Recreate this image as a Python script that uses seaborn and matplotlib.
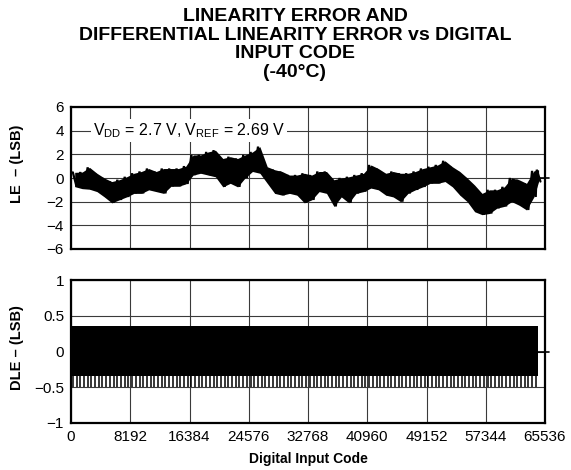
import numpy as np
import pandas as pd
import matplotlib
matplotlib.use("Agg")
import matplotlib.pyplot as plt
import seaborn as sns

# ---------------- data ----------------
x_ticks = [0, 8192, 16384, 24576, 32768, 40960, 49152, 57344, 65536]
le_yticks = [6, 4, 2, 0, -2, -4, -6]
dle_yticks = [1, 0.5, 0, -0.5, -1]
dle_yticklabels = ["1", "0.5", "0", "\u22120.5", "\u22121"]

# LE: highest / lowest value read in each 1024-code interval (interval centres)
le_code = list(range(512, 64512, 1024)) + [64650]
le_upper = [0.48, 0.5, 0.9, 0.4, 0.0, -0.3, -0.15, 0.1, 0.4, 0.55, 0.8, 0.55, 0.8, 0.8, 0.8, 1.0,
            1.95, 1.95, 2.2, 2.35, 1.65, 1.8, 1.65, 1.95, 2.2, 2.65, 0.95, 0.7, 0.55, 0.25, 0.25, 0.4,
            0.25, 0.55, 0.55, -0.15, 0.0, 0.1, 0.25, 0.4, 1.1, 0.8, 0.4, 0.55, 0.4, 0.4, 0.55, 0.8,
            0.95, 1.1, 1.45, 0.95, 0.55, 0.0, -0.6, -1.3, -1.0, -1.0, -0.75, 0.0, -0.15, -0.45, 0.6, 0.7]
le_lower = [-0.73, -0.9, -0.95, -1.15, -1.6, -2.1, -1.85, -1.6, -1.3, -1.3, -1.0, -1.15, -1.3, -0.7, -0.7, -0.5,
            0.25, 0.4, 0.25, 0.1, -0.75, -0.45, -0.75, 0.0, 0.55, 0.4, -0.45, -1.3, -1.45, -1.3, -1.45, -2.1,
            -1.85, -1.15, -1.3, -2.4, -1.6, -2.1, -1.3, -1.15, -0.85, -1.0, -1.45, -1.6, -2.0, -1.3, -1.0, -0.75,
            -0.45, -0.45, -0.3, -0.75, -1.45, -2.0, -2.85, -3.1, -3.0, -2.55, -2.4, -2.0, -2.3, -2.7, -1.6, -0.3]

# DLE: solid core band and downward comb of spikes
dle_code = [0, 64600]
dle_core_hi = [0.35, 0.35]
dle_core_lo = [-0.34, -0.34]
dle_spike_code = list(range(256, 64600, 512))
dle_spike_low = -0.49
stub_code = [64600, 66100]
stub_val = [0, 0]

# ---------------- styling ----------------
sns.set_theme(style="white")
plt.rcParams["font.family"] = ["Liberation Sans", "DejaVu Sans"]
plt.rcParams["mathtext.fontset"] = "custom"
plt.rcParams["mathtext.rm"] = "Liberation Sans"
plt.rcParams["mathtext.it"] = "Liberation Sans:italic"
plt.rcParams["mathtext.bf"] = "Liberation Sans:bold"
for k in ("text.color", "axes.labelcolor", "xtick.color", "ytick.color"):
    plt.rcParams[k] = "black"

fig = plt.figure(figsize=(5.71, 4.70), dpi=100)
W, H = 571, 470
ax1 = fig.add_axes([71 / W, 1 - 249 / H, 474 / W, 142 / H])
ax2 = fig.add_axes([71 / W, 1 - 423 / H, 474 / W, 143 / H])

grid_kw = dict(color="#3a3a3a", linewidth=0.8)

for ax in (ax1, ax2):
    ax.set_xlim(0, 65536)
    ax.set_xticks(x_ticks)
    ax.grid(True, **grid_kw)
    ax.set_axisbelow(True)
    for s in ax.spines.values():
        s.set_color("black")
        s.set_linewidth(1.6)
    ax.tick_params(axis="both", length=0, labelsize=11, colors="black", pad=5)

# ---- LE panel: band between per-interval min and max, edged by a zig-zag trace ----
ax1.fill_between(le_code, le_lower, le_upper, color="black", linewidth=0)
zz_x, zz_y = [], []
for c, u, l in zip(le_code, le_upper, le_lower):
    zz_x += [c - 256, c + 256]
    zz_y += [u, l]
le_df = pd.DataFrame({"code": zz_x, "le": zz_y})
sns.lineplot(data=le_df, x="code", y="le", ax=ax1, color="black", linewidth=1.6,
             sort=False, estimator=None, solid_joinstyle="bevel")
ax1.plot(stub_code, stub_val, color="black", linewidth=1.2, clip_on=False)
ax1.set_ylim(-6, 6)
ax1.set_yticks(le_yticks)
ax1.set_xticklabels([])
ax1.set_xlabel("")
ax1.set_ylabel("LE  \u2013 (LSB)", fontsize=10.5, fontweight="bold")
ax1.yaxis.set_label_coords(-0.099, 0.6)
ax1.text(3000, 4, r"V$_{\mathrm{DD}}$ = 2.7 V, V$_{\mathrm{REF}}$ = 2.69 V",
         fontsize=11.5, va="center", ha="left", color="black",
         bbox=dict(facecolor="white", edgecolor="none", pad=1.5))

# ---- DLE panel ----
ax2.fill_between(dle_code, dle_core_lo, dle_core_hi, color="black", linewidth=0)
ax2.vlines(dle_spike_code, dle_spike_low, -0.3, color="black", linewidth=1.1)
ax2.plot(stub_code, stub_val, color="black", linewidth=1.2, clip_on=False)
ax2.set_ylim(-1, 1)
ax2.set_yticks(dle_yticks)
ax2.set_yticklabels(dle_yticklabels)
ax2.set_xticklabels([str(v) for v in x_ticks])
ax2.set_ylabel("DLE \u2013 (LSB)", fontsize=10.5, fontweight="bold")
ax2.yaxis.set_label_coords(-0.099, 0.53)
ax2.set_xlabel("Digital Input Code", fontsize=10, fontweight="bold", labelpad=6)

fig.text(295 / W, 1 - 8 / H,
         "LINEARITY ERROR AND\nDIFFERENTIAL LINEARITY ERROR vs DIGITAL\nINPUT CODE\n(-40\u00b0C)",
         ha="center", va="top", fontsize=14, fontweight="bold", linespacing=1.12)

fig.savefig("out.png", dpi=100, facecolor="white")
